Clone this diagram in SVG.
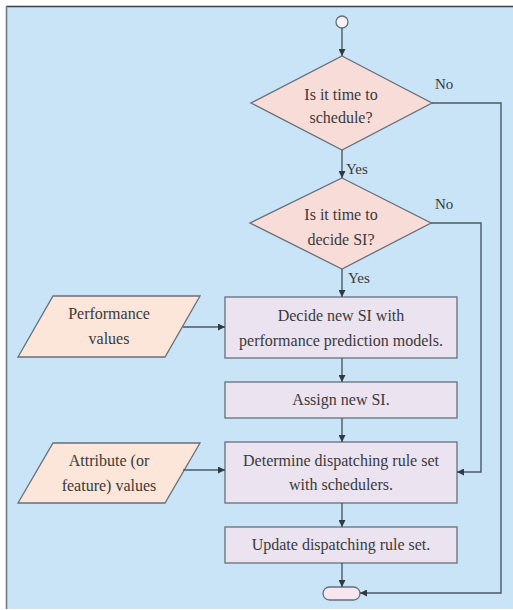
<svg xmlns="http://www.w3.org/2000/svg" width="513" height="610" viewBox="0 0 513 610">
<defs>
<marker id="ah" viewBox="0 0 10 10" refX="10" refY="5" markerWidth="7" markerHeight="7" markerUnits="userSpaceOnUse" orient="auto">
<path d="M0,0 L10,5 L0,10 z" fill="#2f3a45"/>
</marker>
</defs>
<style>
text{font-family:'Liberation Serif','Times New Roman',Times,'DejaVu Serif',serif;fill:#3a3a3a}
.t{font-size:16px;text-anchor:middle}
.l{font-size:15px}
.dia{fill:#f8dcd8;stroke:#66707a;stroke-width:1.3}
.box{fill:#ece3f0;stroke:#66707a;stroke-width:1.3}
.par{fill:#fbe6d9;stroke:#66707a;stroke-width:1.3}
.term{fill:#f8e6ee;stroke:#66707a;stroke-width:1.3}
.c{fill:none;stroke:#4c5966;stroke-width:1.4}
</style>
<rect x="0" y="0" width="513" height="610" fill="#ffffff"/>
<rect x="6" y="6" width="510" height="603" fill="#c9e3f7"/>
<line x1="6" y1="6.5" x2="513" y2="6.5" stroke="#3a4048" stroke-width="1.5"/>
<line x1="6.5" y1="6" x2="6.5" y2="609" stroke="#6c7680" stroke-width="1.5"/>

<g id="start">
<circle cx="342" cy="22" r="6" fill="#f4f2f2" stroke="#66707a" stroke-width="1.3"/>
</g>
<g id="d1">
<polygon class="dia" points="342,56 432,103 342,150 251,103"/>
<text class="t" x="341" y="100">Is it time to</text>
<text class="t" x="341" y="123">schedule?</text>
</g>
<g id="d2">
<polygon class="dia" points="342,178 431,223 342,269 250,223"/>
<text class="t" x="341" y="220">Is it time to</text>
<text class="t" x="341" y="245">decide SI?</text>
</g>
<g id="b1">
<rect class="box" x="225" y="297" width="232" height="61"/>
<text class="t" x="341" y="321">Decide new SI with</text>
<text class="t" x="341" y="346">performance prediction models.</text>
</g>
<g id="b2">
<rect class="box" x="225" y="382" width="232" height="36"/>
<text class="t" x="341" y="405">Assign new SI.</text>
</g>
<g id="b3">
<rect class="box" x="225" y="442" width="232" height="61"/>
<text class="t" x="341" y="466">Determine dispatching rule set</text>
<text class="t" x="341" y="490">with schedulers.</text>
</g>
<g id="b4">
<rect class="box" x="225" y="527" width="232" height="36"/>
<text class="t" x="341" y="550">Update dispatching rule set.</text>
</g>
<g id="p1">
<polygon class="par" points="53,296 200,296 165,357 18,357"/>
<text class="t" x="109" y="319">Performance</text>
<text class="t" x="109" y="344">values</text>
</g>
<g id="p2">
<polygon class="par" points="53,443 200,443 165,503 18,503"/>
<text class="t" x="109" y="466">Attribute (or</text>
<text class="t" x="109" y="491">feature) values</text>
</g>
<g id="end">
<rect class="term" x="323" y="587" width="37" height="13" rx="6.5" ry="6.5"/>
</g>

<g id="connectors">
<line class="c" x1="342" y1="28" x2="342" y2="56" marker-end="url(#ah)"/>
<line class="c" x1="342" y1="150" x2="342" y2="178" marker-end="url(#ah)"/>
<line class="c" x1="342" y1="269" x2="342" y2="297" marker-end="url(#ah)"/>
<line class="c" x1="342" y1="358" x2="342" y2="382" marker-end="url(#ah)"/>
<line class="c" x1="342" y1="418" x2="342" y2="442" marker-end="url(#ah)"/>
<line class="c" x1="342" y1="503" x2="342" y2="527" marker-end="url(#ah)"/>
<line class="c" x1="342" y1="563" x2="342" y2="587" marker-end="url(#ah)"/>
<polyline class="c" points="432,103 501,103 501,593 360,593" marker-end="url(#ah)"/>
<polyline class="c" points="431,223 481,223 481,472 457,472" marker-end="url(#ah)"/>
<line class="c" x1="183" y1="327" x2="225" y2="327" marker-end="url(#ah)"/>
<line class="c" x1="183" y1="470" x2="225" y2="470" marker-end="url(#ah)"/>
<text class="l" x="435" y="89">No</text>
<text class="l" x="346" y="174">Yes</text>
<text class="l" x="435" y="209">No</text>
<text class="l" x="348" y="283">Yes</text>
</g>
</svg>
